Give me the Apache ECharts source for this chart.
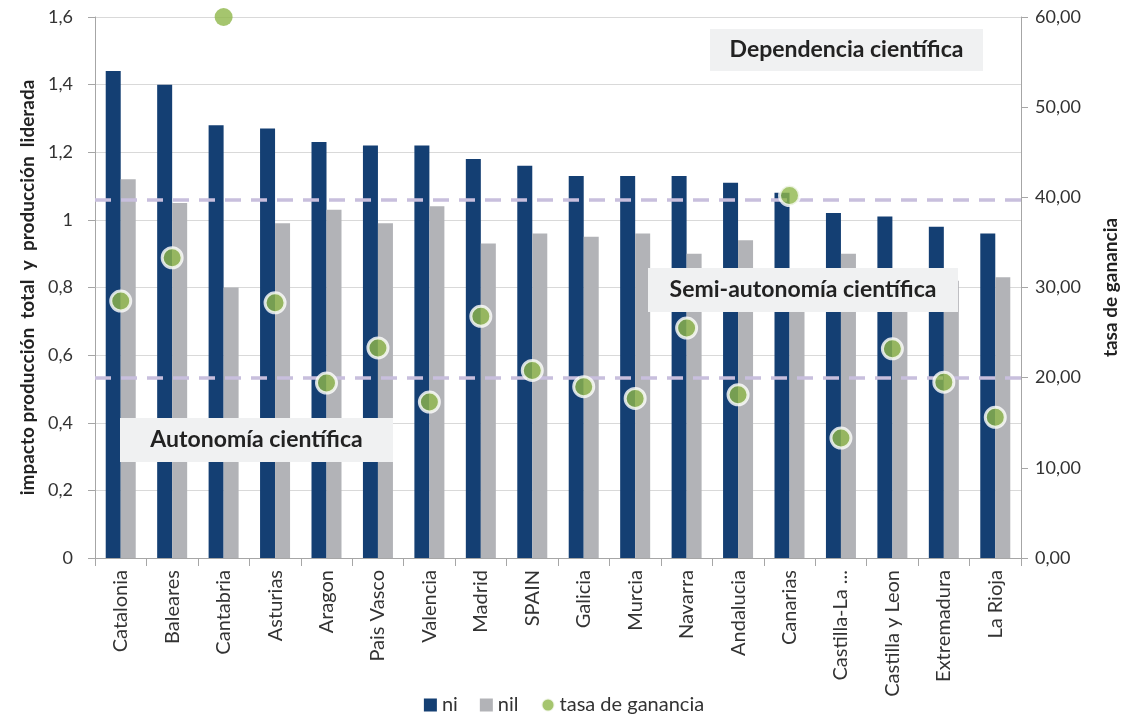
<!DOCTYPE html>
<html><head><meta charset="utf-8">
<script src="https://cdn.jsdelivr.net/npm/echarts@6/dist/echarts.min.js"></script>
<style>html,body{margin:0;padding:0;background:#fff}#c{width:1128px;height:718px}</style>
</head><body><div id="c"></div>
<script>
const categories = ['Catalonia','Baleares','Cantabria','Asturias','Aragon','Pais Vasco','Valencia','Madrid','SPAIN','Galicia','Murcia','Navarra','Andalucia','Canarias','Castilla-La ...','Castilla y Leon','Extremadura','La Rioja'];
const ni  = [1.44,1.40,1.28,1.27,1.23,1.22,1.22,1.18,1.16,1.13,1.13,1.13,1.11,1.08,1.02,1.01,0.98,0.96];
const nil = [1.12,1.05,0.80,0.99,1.03,0.99,1.04,0.93,0.96,0.95,0.96,0.90,0.94,0.82,0.90,0.80,0.82,0.83];
const tasa = [28.5,33.3,60.0,28.3,19.4,23.3,17.3,26.8,20.8,19.0,17.7,25.5,18.1,40.2,13.3,23.2,19.5,15.6];
const thresholds = [39.7, 20.0];
const labels = [
  {text:'Dependencia científica', x:710, y:29, w:273, h:42},
  {text:'Semi-autonomía científica', x:648, y:268, w:310, h:44},
  {text:'Autonomía científica', x:120, y:418, w:273, h:44}
];

const FONT = 'Lato, "Open Sans", sans-serif';
const chart = echarts.init(document.getElementById('c'));
const fmtLeft = v => (Math.round(v*10)/10).toString().replace('.', ',');
const fmtRight = v => v.toFixed(2).replace('.', ',');

chart.setOption({
  animation:false,
  textStyle:{fontFamily:FONT},
  grid:{left:95, right:100, top:17, bottom:160},
  legend:{
    bottom:-2, left:'center', itemWidth:13, itemHeight:13, itemGap:22,
    textStyle:{fontSize:20, color:'#333', fontFamily:FONT},
    data:[{name:'ni', icon:'rect'},{name:'nil', icon:'rect'},{name:'tasa de ganancia', icon:'circle'}]
  },
  xAxis:{
    type:'category', data:categories,
    axisLine:{lineStyle:{color:'#a6a6a6', width:1}},
    axisTick:{show:true, length:8, lineStyle:{color:'#a6a6a6'}, alignWithLabel:false},
    axisLabel:{rotate:90, fontSize:20, color:'#333', margin:12, interval:0, fontFamily:FONT}
  },
  yAxis:[{
    type:'value', min:0, max:1.6, interval:0.2,
    name:'impacto producción  total  y  producción  liderada', nameLocation:'middle', nameGap:57, nameRotate:90,
    nameTextStyle:{fontSize:19, fontWeight:'bold', color:'#222', fontFamily:FONT},
    axisLine:{show:true, lineStyle:{color:'#a6a6a6'}},
    axisTick:{show:true, length:7, lineStyle:{color:'#a6a6a6'}},
    axisLabel:{fontSize:18, color:'#333', margin:22, formatter:fmtLeft},
    splitLine:{show:true, lineStyle:{color:'#d9d9d9', width:1}}
  },{
    type:'value', min:0, max:60, interval:10,
    name:'tasa de ganancia', nameLocation:'middle', nameGap:80, nameRotate:90,
    nameTextStyle:{fontSize:19, fontWeight:'bold', color:'#222', fontFamily:FONT},
    axisLine:{show:true, lineStyle:{color:'#a6a6a6'}},
    axisTick:{show:true, length:7, lineStyle:{color:'#a6a6a6'}},
    axisLabel:{fontSize:18, color:'#333', margin:14, formatter:fmtRight},
    splitLine:{show:false}
  }],
  series:[
    {name:'ni', type:'bar', data:ni, barWidth:15, barGap:'0%', itemStyle:{color:'#143f73'}, z:2},
    {name:'nil', type:'bar', data:nil, barWidth:15, barGap:'0%', itemStyle:{color:'#b2b3b7'}, z:2},
    {name:'tasa de ganancia', type:'scatter', yAxisIndex:1, symbolSize:20, z:5,
      data: tasa.map(v => v >= 60 ? {value:v, symbolSize:18, itemStyle:{borderWidth:0}} : v),
      itemStyle:{color:'#8fb74a', borderColor:'#fff', borderWidth:3},
      markLine:{silent:true, symbol:'none', label:{show:false}, z:3,
        lineStyle:{color:'#c8bfdd', type:[16,10], width:3.5},
        data: thresholds.map(t => ({yAxis:t}))}
    }
  ],
  graphic: labels.flatMap(l => [
    {type:'rect', z:10, shape:{x:l.x, y:l.y, width:l.w, height:l.h}, style:{fill:'#f0f1f2'}},
    {type:'text', z:11, x:l.x + l.w/2, y:l.y + l.h/2, style:{text:l.text, fill:'#222', font:'bold 23px ' + FONT, align:'center', verticalAlign:'middle'}}
  ])
});
</script></body></html>
